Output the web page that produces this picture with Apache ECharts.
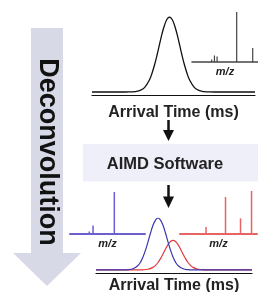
<!DOCTYPE html>
<html>
<head>
<meta charset="utf-8">
<script src="https://cdn.jsdelivr.net/npm/echarts@6/dist/echarts.min.js"></script>
<style>
html,body{margin:0;padding:0;background:#fff;}
#chart{width:258px;height:292px;}
</style>
</head>
<body>
<div id="chart"></div>
<script>
// top arrival time distribution (before deconvolution)
var topTime = [0, 3.25, 3.75, 4.25, 4.75, 5.25, 5.75, 6.0, 6.25, 6.5, 6.75, 7.0, 7.25, 7.5, 7.75, 8.0, 8.25, 8.5, 8.75, 9.0, 9.25, 9.5, 9.75, 10.25, 10.75, 11.25, 11.75, 12.25, 16.3];
var topInt = [0, 0, 0.1, 0.4, 1.7, 5.9, 16.3, 25, 36, 49, 63.5, 77.5, 89, 97, 100, 97, 89, 77.5, 63.5, 49, 36, 25, 16.3, 5.9, 1.7, 0.4, 0.1, 0, 0];

// top mass spectrum
var topMz = [29.8, 34, 38, 67.7, 92];
var topMzInt = [5, 13, 11, 100, 28];

// deconvolved components
var blueTime = [0, 2.7, 3.2, 3.7, 4.2, 4.45, 4.7, 4.95, 5.2, 5.45, 5.7, 5.95, 6.2, 6.45, 6.7, 6.95, 7.2, 7.45, 7.7, 7.95, 8.2, 8.7, 9.2, 9.7, 15.6];
var blueInt = [0, 0.05, 0.4, 2.1, 8.5, 15, 25, 38, 54, 71, 86, 96, 100, 96, 86, 71, 54, 38, 25, 15, 8.5, 2.1, 0.4, 0.05, 0];
var redTime = [0, 4.2, 4.7, 5.2, 5.7, 5.95, 6.2, 6.45, 6.7, 6.95, 7.2, 7.45, 7.7, 7.95, 8.2, 8.45, 8.7, 8.95, 9.2, 9.45, 9.7, 10.2, 10.7, 11.2, 15.6];
var redInt = [0, 0.03, 0.2, 1.2, 4.8, 8.6, 14.2, 21.7, 30.7, 40.3, 48.8, 54.8, 57, 54.8, 48.8, 40.3, 30.7, 21.7, 14.2, 8.6, 4.8, 1.2, 0.2, 0.03, 0];

// deconvolved mass spectra
var blueMz = [25.7, 30.7, 59.1];
var blueMzInt = [6, 20, 100];
var redMz = [33.8, 59.1, 78.6, 92.9];
var redMzInt = [16.5, 86, 36.5, 100];

var FONT = '"Liberation Sans", Arial, Helvetica, sans-serif';
var BLUE = '#3a36b0', RED = '#e0393a', BLUE_MS = '#6e5fd0', RED_MS = '#e86464';

function pairs(xs, ys) {
    var out = [];
    for (var i = 0; i < xs.length; i++) out.push([xs[i], ys[i]]);
    return out;
}

function xAx(idx, min, max, color, width, name, gap, nameStyle) {
    return {
        type: 'value', gridIndex: idx, min: min, max: max,
        axisLine: {show: true, onZero: false, lineStyle: {color: color, width: width}},
        axisTick: {show: false}, axisLabel: {show: false}, splitLine: {show: false},
        name: name, nameLocation: 'middle', nameGap: gap, nameTextStyle: nameStyle
    };
}
function yAx(idx, min, max) {
    return {type: 'value', gridIndex: idx, min: min, max: max, show: false, splitLine: {show: false}};
}

var arrivalStyle = {fontFamily: FONT, fontWeight: 'bold', fontSize: 16, color: '#222'};
var mzStyle = {fontFamily: FONT, fontWeight: 'bold', fontStyle: 'italic', fontSize: 11, color: '#222'};

var chart = echarts.init(document.getElementById('chart'));
var option = {
    animation: false,
    backgroundColor: '#fff',
    grid: [
        {left: 92, right: 3, top: 17, height: 78, containLabel: false, outerBoundsMode: 'none'},
        {left: 192, right: 0, top: 12, height: 50, containLabel: false, outerBoundsMode: 'none'},
        {left: 70, width: 75, top: 192, height: 42, containLabel: false, outerBoundsMode: 'none'},
        {left: 180, width: 77, top: 191, height: 43, containLabel: false, outerBoundsMode: 'none'},
        {left: 96, width: 156, top: 218, height: 55, containLabel: false, outerBoundsMode: 'none'}
    ],
    xAxis: [
        xAx(0, 0, 16.3, '#111', 1.2, 'Arrival Time (ms)', 10, arrivalStyle),
        xAx(1, 0, 100, '#444', 1.6, 'm/z', 4, mzStyle),
        xAx(2, 0, 100, BLUE_MS, 2, 'm/z', 4, mzStyle),
        xAx(3, 0, 100, RED_MS, 2, 'm/z', 4, mzStyle),
        xAx(4, 0, 15.6, '#111', 1.2, 'Arrival Time (ms)', 5, arrivalStyle)
    ],
    yAxis: [yAx(0, -4, 100), yAx(1, 0, 100), yAx(2, 0, 100), yAx(3, 0, 100), yAx(4, -6, 100)],
    graphic: [
        {type: 'polygon', z: 0, shape: {points: [[31, 28], [63, 28], [63, 253], [81, 253], [47, 286], [13, 253], [31, 253]]},
         style: {fill: '#d8d9e7'}},
        {type: 'text', x: 47, y: 152, rotation: -Math.PI / 2, z: 1,
         style: {text: 'Deconvolution', fontFamily: FONT, fontWeight: 'bold', fontSize: 27, fill: '#111', align: 'center', verticalAlign: 'middle'}},
        {type: 'rect', z: 0, shape: {x: 83, y: 144, width: 175, height: 37.5}, style: {fill: '#efeffa'}},
        {type: 'text', x: 165, y: 164.5, z: 1,
         style: {text: 'AIMD Software', fontFamily: FONT, fontWeight: 'bold', fontSize: 16.5, fill: '#222', align: 'center', verticalAlign: 'middle'}},
        {type: 'line', shape: {x1: 168.5, y1: 120, x2: 168.5, y2: 132}, style: {stroke: '#111', lineWidth: 2.5}},
        {type: 'polygon', shape: {points: [[163, 130], [174, 130], [168.5, 141]]}, style: {fill: '#111'}},
        {type: 'line', shape: {x1: 168.5, y1: 185, x2: 168.5, y2: 198}, style: {stroke: '#111', lineWidth: 2.5}},
        {type: 'polygon', shape: {points: [[163, 196.5], [174, 196.5], [168.5, 208]]}, style: {fill: '#111'}}
    ],
    series: [
        {type: 'line', xAxisIndex: 0, yAxisIndex: 0, data: pairs(topTime, topInt), smooth: 0.4,
         showSymbol: false, lineStyle: {color: '#111', width: 1.3}},
        {type: 'bar', xAxisIndex: 1, yAxisIndex: 1, data: pairs(topMz, topMzInt), barWidth: 1.2,
         itemStyle: {color: '#444'}},
        {type: 'bar', xAxisIndex: 2, yAxisIndex: 2, data: pairs(blueMz, blueMzInt), barWidth: 1.5,
         itemStyle: {color: BLUE_MS}},
        {type: 'bar', xAxisIndex: 3, yAxisIndex: 3, data: pairs(redMz, redMzInt), barWidth: 1.5,
         itemStyle: {color: RED_MS}},
        {type: 'line', xAxisIndex: 4, yAxisIndex: 4, data: pairs(redTime, redInt), smooth: 0.4,
         showSymbol: false, lineStyle: {color: RED, width: 1.2}},
        {type: 'line', xAxisIndex: 4, yAxisIndex: 4, data: pairs(blueTime, blueInt), smooth: 0.4,
         showSymbol: false, lineStyle: {color: BLUE, width: 1.2}}
    ]
};
chart.setOption(option);
</script>
</body>
</html>
